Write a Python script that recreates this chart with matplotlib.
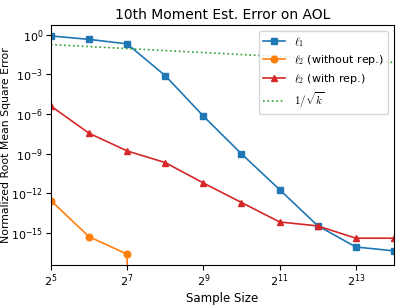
import matplotlib
matplotlib.use("Agg")
import matplotlib.pyplot as plt
import numpy as np
from matplotlib.ticker import NullLocator, LogFormatterSciNotation

plt.rcParams["mathtext.fontset"] = "cm"
plt.rcParams["font.size"] = 8

# sample sizes 2^5 .. 2^14
sample_sizes = [2**p for p in range(5, 15)]

# values (0 = estimate exact, drops off the log axis)
l1_err = [0.8, 0.44, 0.2, 7.9e-4, 6.9e-7, 9.6e-10, 1.9e-12, 3.5e-15, 8.7e-17, 4.4e-17]
l2_norep_err = [2.8e-13, 5.2e-16, 2.5e-17, 0, 0, 0, 0, 0, 0, 0]
l2_rep_err = [4e-6, 3.5e-8, 1.6e-9, 2.1e-10, 6e-12, 2e-13, 6.8e-15, 3.4e-15, 4e-16, 4e-16]
inv_sqrt_k = [1 / np.sqrt(k) for k in sample_sizes]

fig = plt.figure(figsize=(4.07, 3.05), dpi=100)
ax = fig.add_axes([0.125, 0.131, 0.843, 0.787])

style = dict(lw=1.2, ms=4.8)
ax.plot(sample_sizes, l1_err, "s-", color="tab:blue", label=r"$\ell_1$", **style)
ax.plot(sample_sizes, l2_norep_err, "o-", color="tab:orange", label=r"$\ell_2$ (without rep.)", **style)
ax.plot(sample_sizes, l2_rep_err, "^-", color="tab:red", label=r"$\ell_2$ (with rep.)", **style)
ax.plot(sample_sizes, inv_sqrt_k, ":", color="tab:green", lw=1.2, label=r"$1/\sqrt{k}$")

ax.set_xscale("log", base=2)
ax.set_yscale("log", nonpositive="clip")
ax.set_xlim(sample_sizes[0], sample_sizes[-1])
ax.set_xticks(sample_sizes[::2])
ax.xaxis.set_major_formatter(LogFormatterSciNotation(base=2))
ax.set_yticks([10.0**e for e in range(0, -18, -3)])
ax.xaxis.set_minor_locator(NullLocator())
ax.yaxis.set_minor_locator(NullLocator())
ax.tick_params(labelsize=8, pad=2)

ax.set_title("10th Moment Est. Error on AOL", fontsize=10, pad=4)
ax.set_xlabel("Sample Size", fontsize=8.5, labelpad=2)
ax.set_ylabel("Normalized Root Mean Square Error", fontsize=7.8, labelpad=0)
ax.legend(loc="upper right", fontsize=8, labelspacing=0.4)

fig.savefig("out.png", dpi=100)
